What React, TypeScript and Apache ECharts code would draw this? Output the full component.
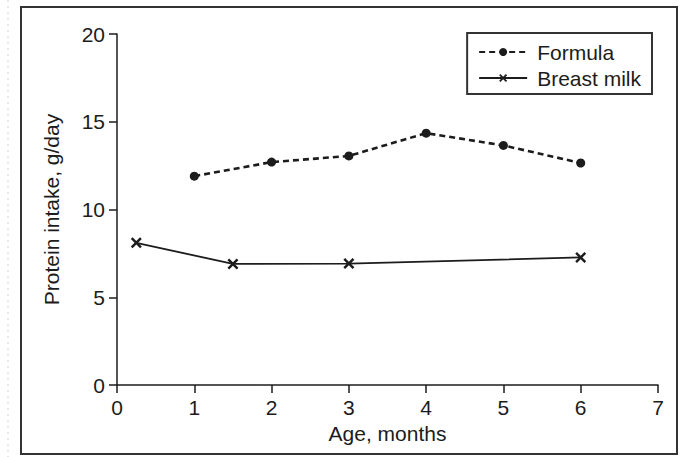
import React, { useEffect, useRef } from "react";
import * as echarts from "echarts";

const formulaAge = [1, 2, 3, 4, 5, 6];
const formulaProtein = [11.9, 12.7, 13.05, 14.35, 13.65, 12.65];
const breastAge = [0.25, 1.5, 3, 6];
const breastProtein = [8.1, 6.9, 6.92, 7.27];
const xTicks = [0, 7, 1];
const yTicks = [0, 20, 5];

const INK = "#1c1c1c";
const FONT = "Liberation Sans";
const FS = 21;
const X_SYMBOL =
  "path://M0,1.6 L1.6,0 L5,3.4 L8.4,0 L10,1.6 L6.6,5 L10,8.4 L8.4,10 L5,6.6 L1.6,10 L0,8.4 L3.4,5 Z";

export default function App() {
  const ref = useRef<HTMLDivElement>(null);
  useEffect(() => {
    if (!ref.current) return;
    const chart = echarts.init(ref.current, undefined, { renderer: "svg" });
    chart.setOption({
      animation: false,
      backgroundColor: "#fff",
      textStyle: { fontFamily: FONT, color: INK },
      grid: { left: 117, right: 22, top: 34, bottom: 72, containLabel: false },
      graphic: [
        {
          type: "rect",
          shape: { x: 21, y: 7, width: 656, height: 447 },
          style: { fill: "none", stroke: "#333", lineWidth: 2 },
          silent: true,
        },
        {
          type: "line",
          shape: { x1: 8, y1: 0, x2: 8, y2: 457 },
          style: { stroke: "#c9d3de", lineWidth: 1, lineDash: [2, 4] },
          silent: true,
        },
      ],
      legend: {
        orient: "vertical",
        right: 28,
        top: 33,
        itemWidth: 48,
        itemHeight: 10,
        itemGap: 5,
        padding: [8.5, 11, 5.5, 11],
        borderColor: "#333",
        borderWidth: 2,
        textStyle: {
          fontFamily: FONT,
          fontSize: FS,
          lineHeight: 21,
          color: INK,
          padding: [0, 0, 0, 5],
        },
        data: ["Formula", "Breast milk"],
      },
      xAxis: {
        type: "value",
        min: xTicks[0],
        max: xTicks[1],
        interval: xTicks[2],
        name: "Age, months",
        nameLocation: "middle",
        nameGap: 37,
        nameTextStyle: { fontFamily: FONT, fontSize: FS, color: INK },
        axisLine: { show: true, onZero: false, lineStyle: { color: INK, width: 1.5 } },
        axisTick: { show: true, length: 8, lineStyle: { color: INK, width: 1.5 } },
        axisLabel: { margin: 12, fontFamily: FONT, fontSize: FS, color: INK },
        splitLine: { show: false },
      },
      yAxis: {
        type: "value",
        min: yTicks[0],
        max: yTicks[1],
        interval: yTicks[2],
        name: "Protein intake, g/day",
        nameLocation: "middle",
        nameGap: 55,
        nameTextStyle: { fontFamily: FONT, fontSize: FS, color: INK },
        axisLine: { show: true, lineStyle: { color: INK, width: 1.5 } },
        axisTick: { show: true, length: 8, lineStyle: { color: INK, width: 1.5 } },
        axisLabel: { margin: 12, fontFamily: FONT, fontSize: FS, color: INK },
        splitLine: { show: false },
      },
      series: [
        {
          name: "Formula",
          type: "line",
          data: formulaAge.map((x, i) => [x, formulaProtein[i]]),
          symbol: "circle",
          symbolSize: 9,
          showAllSymbol: true,
          lineStyle: { color: INK, width: 2.6, type: [6, 4] },
          itemStyle: { color: INK },
        },
        {
          name: "Breast milk",
          type: "line",
          data: breastAge.map((x, i) => [x, breastProtein[i]]),
          symbol: X_SYMBOL,
          symbolSize: 11,
          showAllSymbol: true,
          lineStyle: { color: INK, width: 1.8, type: "solid" },
          itemStyle: { color: INK },
        },
      ],
    });
    return () => chart.dispose();
  }, []);
  return (
    <div
      ref={ref}
      style={{ position: "absolute", left: 0, top: 0, width: 680, height: 457 }}
    />
  );
}
